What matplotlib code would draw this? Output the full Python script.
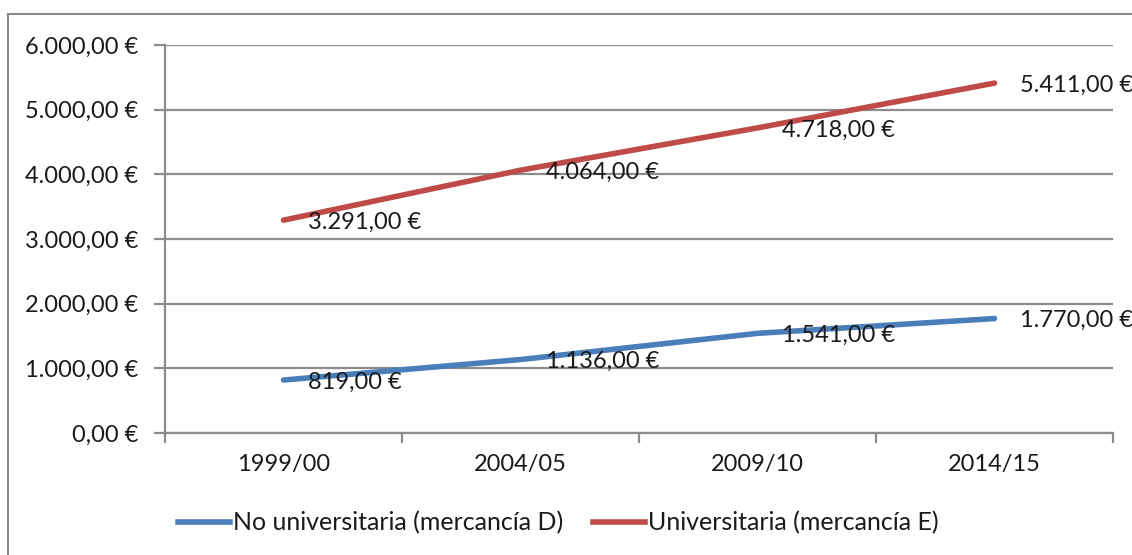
import matplotlib
matplotlib.use("Agg")
import matplotlib.pyplot as plt
from matplotlib.patches import Rectangle
from matplotlib.lines import Line2D

categories = ["1999/00", "2004/05", "2009/10", "2014/15"]
no_univ = [819, 1136, 1541, 1770]
univ = [3291, 4064, 4718, 5411]
series_names = ["No universitaria (mercancía D)", "Universitaria (mercancía E)"]
y_ticks = [0, 1000, 2000, 3000, 4000, 5000, 6000]

BLUE = "#4A7EBB"
RED = "#BE4B48"
GRID = "#8C8C8C"
TEXT = "#1A1A1A"
FONT = "Lato"


def euro(v):
    s = f"{v:,.2f}"
    s = s.replace(",", "X").replace(".", ",").replace("X", ".")
    return s + "\u00a0€"


W, H = 1132, 555
fig = plt.figure(figsize=(W / 100, H / 100), dpi=100)
plt.rcParams["font.family"] = [FONT, "DejaVu Sans"]

# outer chart frame
fig.patches.append(Rectangle((8 / W, -0.1), 1.2, 1 - 14 / H + 0.1,
                             transform=fig.transFigure, fill=False,
                             edgecolor="#8A8A8A", linewidth=1.5))

ax = fig.add_axes([165 / W, 1 - 433 / H, (1113 - 165) / W, (433 - 45) / H])
x = list(range(len(categories)))
ax.set_xlim(-0.5, len(categories) - 0.5)
ax.set_ylim(0, 6000)

ax.set_yticks(y_ticks)
ax.set_yticklabels([euro(v) for v in y_ticks], fontsize=17, color=TEXT)
ax.yaxis.grid(True, color=GRID, linewidth=1.6)
ax.set_axisbelow(True)
ax.tick_params(axis="y", length=8, width=1.6, color=GRID, pad=11)

ax.set_xticks([i - 0.5 for i in range(len(categories) + 1)])
ax.set_xticklabels([])
ax.set_xticks(x, minor=True)
ax.set_xticklabels(categories, minor=True, fontsize=17, color=TEXT)
ax.tick_params(axis="x", which="major", length=7, width=1.6, color=GRID)
ax.tick_params(axis="x", which="minor", length=0, pad=15)

for side in ["top", "right"]:
    ax.spines[side].set_visible(False)
for side in ["left", "bottom"]:
    ax.spines[side].set_color(GRID)
    ax.spines[side].set_linewidth(1.6)

ax.plot(x, no_univ, color=BLUE, linewidth=4, solid_capstyle="round", zorder=3)
ax.plot(x, univ, color=RED, linewidth=4, solid_capstyle="round", zorder=3)

# value labels to the right of each point
for series in (no_univ, univ):
    for i, v in enumerate(series):
        ax.annotate(euro(v), (i, v), xytext=(18, -1.5),
                    textcoords="offset points", ha="left", va="center",
                    fontsize=17, color=TEXT, zorder=4)

handles = [Line2D([], [], color=BLUE, linewidth=4),
           Line2D([], [], color=RED, linewidth=4)]
fig.legend(handles, series_names, loc="center", ncol=2,
           bbox_to_anchor=(558 / W, 1 - 523 / H), frameon=False,
           fontsize=18, handlelength=2.1, handletextpad=0.1,
           columnspacing=1.2, labelcolor=TEXT)

fig.savefig("out.png", dpi=100, facecolor="white")
